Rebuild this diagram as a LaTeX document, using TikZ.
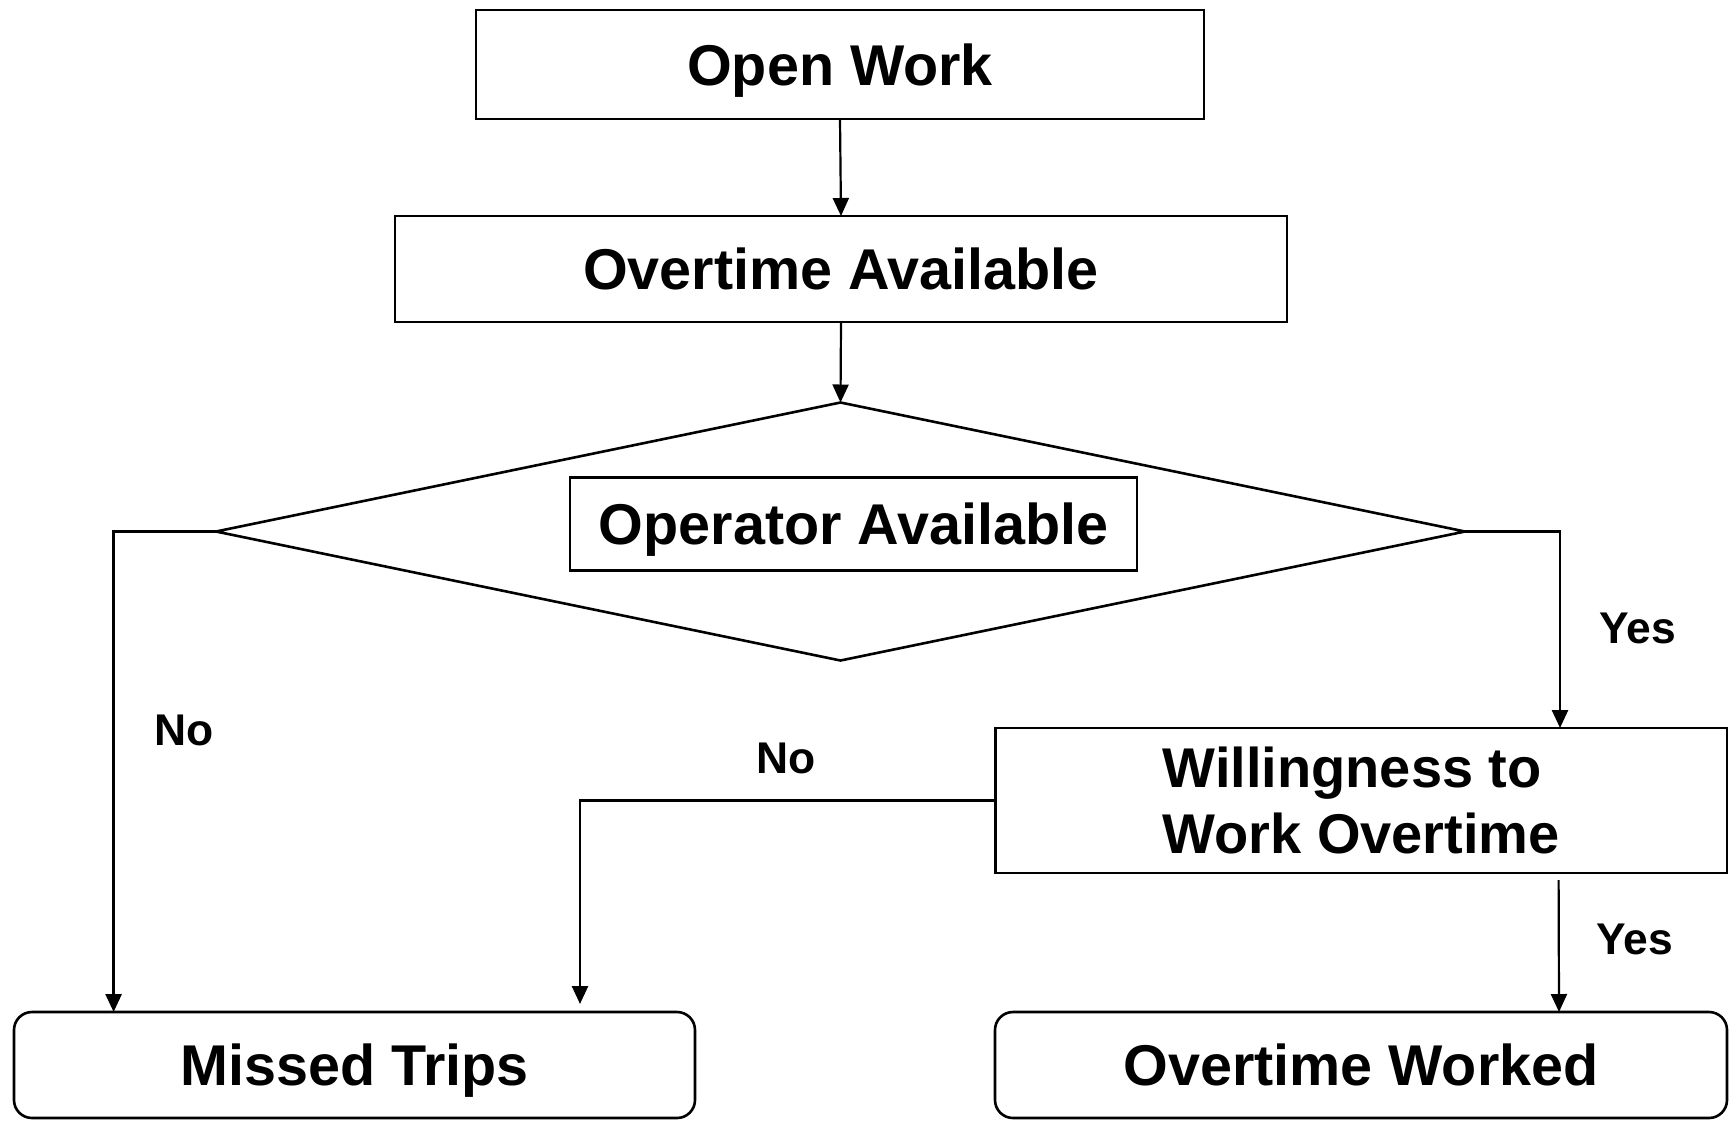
\documentclass[tikz,border=0pt]{standalone}
\usepackage{fontspec}
\setmainfont{Liberation Sans}
\usetikzlibrary{arrows.meta,shapes.geometric}
\begin{document}
\begin{tikzpicture}[x=0.5pt,y=-0.5pt,
  box/.style={draw,line width=1.3pt,inner sep=0pt,outer sep=0pt,font=\fontsize{28.75pt}{33pt}\selectfont\bfseries},
  onebox/.style={box,text height=20.6pt,text depth=0pt},
  rbox/.style={onebox,rounded corners=9pt},
  lbl/.style={font=\fontsize{22.2pt}{26pt}\selectfont\bfseries,inner sep=0pt},
  arr/.style={line width=1.1pt,-{Triangle[length=9pt,width=8pt]}},
  conn/.style={line width=1.3pt}]
\useasboundingbox (0,0) rectangle (1729,1120);
\node[onebox,minimum width=364pt,minimum height=54.5pt] (ow) at (840,64.5) {Open Work};
\node[onebox,minimum width=446pt,minimum height=53pt] (oa) at (841,269) {Overtime Available};
\node[draw,diamond,line width=1.3pt,inner sep=0pt,outer sep=0pt,aspect=4.84,minimum width=624.5pt,minimum height=129pt] (dec) at (840.5,531.5) {};
\node[onebox,minimum width=283.5pt,minimum height=46.75pt] (op) at (853.5,524) {Operator Available};
\node[box,minimum width=365.7pt,minimum height=72.5pt,align=left,font=\fontsize{28pt}{33pt}\selectfont\bfseries] (wt) at (1361.3,800.5) {Willingness to\\Work Overtime};
\node[rbox,minimum width=340.5pt,minimum height=53pt] (mt) at (354.5,1065) {Missed Trips};
\node[rbox,minimum width=366pt,minimum height=53pt] (wk) at (1361,1065) {Overtime Worked};
\draw[arr] (ow.south) -- (oa.north);
\draw[arr] (oa.south) -- (dec.north);
\draw[arr,line width=1.3pt] (dec.west) -| ([xshift=49.8pt]mt.north west);
\draw[arr,line width=1.3pt] (dec.east) -| ([xshift=282.2pt]wt.north west);
\draw[arr,line width=1.3pt] (wt.west) -| ([xshift=283pt,yshift=4pt]mt.north west);
\draw[arr] ([xshift=281.5pt,yshift=-3.5pt]wt.south west) -- ([xshift=282pt]wk.north west);
\node[lbl] (no1) at (184,730) {No};
\node[lbl] (no2) at (786,758.6) {No};
\node[lbl] (yes1) at (1637.5,628) {Yes};
\node[lbl] (yes2) at (1635,939) {Yes};
\end{tikzpicture}
\end{document}
